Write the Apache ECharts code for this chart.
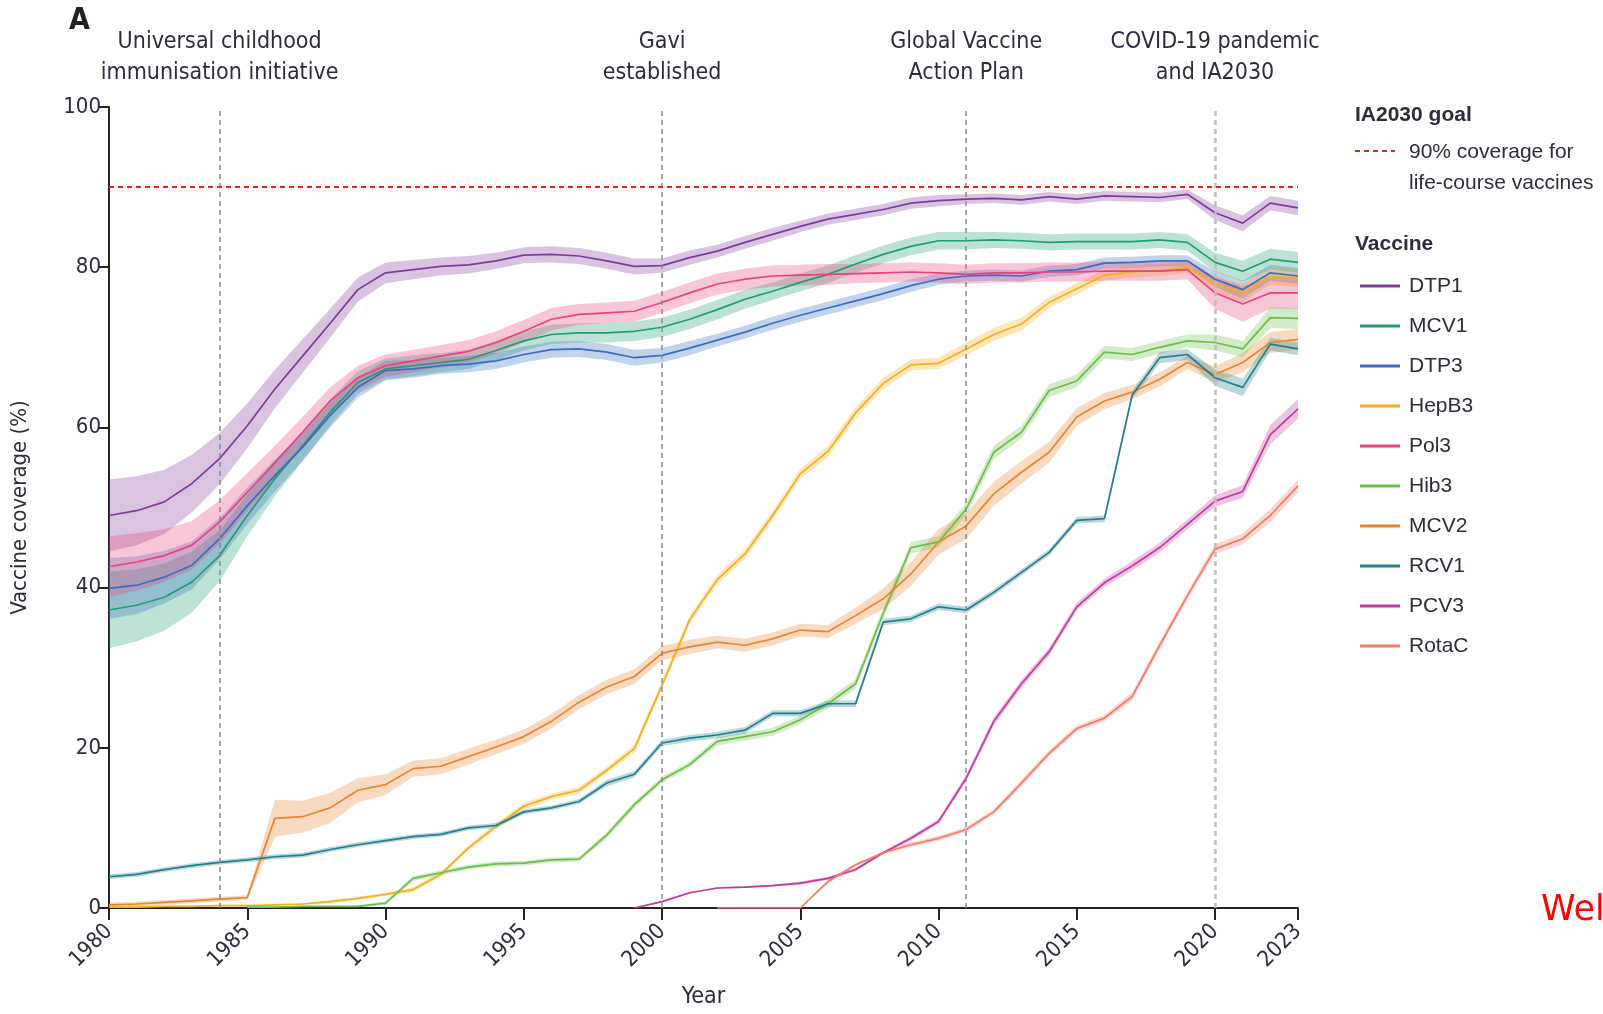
<!DOCTYPE html>
<html>
<head>
<meta charset="utf-8">
<script src="https://cdn.jsdelivr.net/npm/echarts@6/dist/echarts.min.js"></script>
<style>
  html, body { margin: 0; padding: 0; background: #fff; }
  #chart { width: 1603px; height: 1014px; }
</style>
</head>
<body>
<div id="chart"></div>
<script>
const years = ['1980','1981','1982','1983','1984','1985','1986','1987','1988','1989',
  '1990','1991','1992','1993','1994','1995','1996','1997','1998','1999',
  '2000','2001','2002','2003','2004','2005','2006','2007','2008','2009',
  '2010','2011','2012','2013','2014','2015','2016','2017','2018','2019',
  '2020','2021','2022','2023'];
const tickYears = ['1980','1985','1990','1995','2000','2005','2010','2015','2020','2023'];
const eventYears = ['1984', '2000', '2011', '2020'];
const eventLabels = [
  ['Universal childhood', 'immunisation initiative'],
  ['Gavi', 'established'],
  ['Global Vaccine', 'Action Plan'],
  ['COVID-19 pandemic', 'and IA2030']
];
const goalValue = 90;

const vaccines = ['DTP1', 'MCV1', 'DTP3', 'HepB3', 'Pol3', 'Hib3', 'MCV2', 'RCV1', 'PCV3', 'RotaC'];
const colors = ['#7d3c98', '#1f9e74', '#3d6cc0', '#f2b01e', '#e8437b', '#6cbd4a', '#e98430', '#237f8c', '#c13b9e', '#f37b6b'];

// coverage (%) per year, 1980-2023
const dtp1 = [49.0,49.6,50.7,53.0,56.1,60.2,64.8,68.9,73.0,77.2,
  79.3,79.7,80.1,80.3,80.8,81.5,81.6,81.4,80.8,80.1,
  80.2,81.2,82.0,83.1,84.1,85.1,86.0,86.6,87.2,88.0,
  88.3,88.5,88.6,88.4,88.8,88.5,88.9,88.8,88.7,89.1,
  86.8,85.5,88.0,87.4];
const mcv1 = [37.2,37.8,38.8,40.7,44.0,49.0,53.6,57.7,61.9,65.6,
  67.3,67.7,68.1,68.5,69.6,70.8,71.6,71.8,71.8,72.0,
  72.5,73.5,74.7,76.0,77.0,78.1,79.1,80.4,81.6,82.6,
  83.3,83.3,83.4,83.3,83.1,83.2,83.2,83.2,83.4,83.1,
  80.6,79.5,81.0,80.6];
const dtp3 = [39.9,40.3,41.3,42.8,46.1,50.2,54.0,57.5,61.5,65.0,
  67.1,67.3,67.7,67.9,68.3,69.1,69.7,69.8,69.4,68.7,
  69.0,69.9,70.9,71.9,73.0,74.0,74.9,75.8,76.7,77.7,
  78.5,78.9,79.0,78.9,79.5,79.7,80.5,80.6,80.8,80.8,
  78.5,77.2,79.3,78.9];
const hepb3 = [0.1,0.1,0.2,0.2,0.3,0.3,0.4,0.5,0.8,1.2,
  1.7,2.3,4.2,7.5,10.2,12.7,13.9,14.7,17.2,19.9,
  27.8,36.0,41.0,44.2,49.0,54.2,57.0,61.8,65.5,67.8,
  68.0,69.8,71.6,72.9,75.6,77.3,79.0,79.4,79.6,80.0,
  77.9,76.8,78.9,78.6];
const pol3 = [42.6,43.2,44.0,45.3,48.2,51.9,55.6,59.4,63.3,66.2,
  67.7,68.3,68.9,69.5,70.6,72.0,73.5,74.1,74.3,74.5,
  75.6,76.8,77.9,78.5,78.9,79.0,79.1,79.2,79.3,79.4,
  79.3,79.1,79.3,79.3,79.4,79.4,79.5,79.5,79.5,79.7,
  76.8,75.4,76.8,76.8];
const hib3 = [null,null,null,null,null,0.1,0.1,0.2,0.2,0.2,
  0.6,3.7,4.4,5.1,5.5,5.6,6.0,6.1,9.1,12.9,
  16.0,17.9,20.8,21.4,22.0,23.5,25.5,28.0,36.8,45.0,
  45.7,49.8,56.9,59.4,64.6,65.8,69.4,69.1,70.0,70.8,
  70.6,69.8,73.7,73.6];
const mcv2 = [0.4,0.5,0.7,0.9,1.1,1.3,11.2,11.4,12.5,14.7,
  15.4,17.4,17.7,18.9,20.1,21.4,23.3,25.7,27.6,28.9,
  31.8,32.6,33.2,32.8,33.6,34.7,34.5,36.5,38.6,41.7,
  45.7,47.7,51.7,54.4,56.9,61.3,63.3,64.4,66.0,68.1,
  66.6,68.1,70.6,71.0];
const rcv1 = [3.9,4.2,4.8,5.3,5.7,6.0,6.4,6.6,7.3,7.9,
  8.4,8.9,9.2,10.0,10.3,12.0,12.5,13.3,15.6,16.7,
  20.6,21.2,21.6,22.2,24.3,24.3,25.5,25.5,35.7,36.1,
  37.6,37.2,39.4,41.9,44.4,48.4,48.6,64.0,68.7,69.1,
  66.2,65.0,70.4,69.8];
const pcv3 = [null,null,null,null,null,null,null,null,null,null,
  null,null,null,null,null,null,null,null,null,0.0,
  0.8,1.9,2.5,2.6,2.8,3.1,3.7,4.8,6.9,8.7,
  10.8,16.2,23.3,28.0,32.0,37.6,40.6,42.7,45.0,47.9,
  50.8,52.0,59.1,62.3];
const rotac = [null,null,null,null,null,null,null,null,null,null,
  null,null,null,null,null,null,null,null,null,null,
  null,null,0.0,0.0,0.0,0.0,3.3,5.4,6.9,7.9,
  8.7,9.8,12.0,15.6,19.3,22.4,23.7,26.4,32.8,39.0,
  44.8,46.1,49.0,52.7];

// half-width of the uncertainty band (percentage points)
const ciDtp1 = [4.5,4.3,4.0,3.6,3.2,2.8,2.4,2.1,1.8,1.5,
  1.3,1.2,1.1,1.1,1.0,1.0,1.0,1.0,1.0,1.0,
  0.9,0.9,0.8,0.8,0.8,0.7,0.7,0.7,0.7,0.7,
  0.7,0.6,0.6,0.6,0.6,0.6,0.6,0.6,0.6,0.6,
  0.9,1.0,0.9,0.9];
const ciMcv1 = [4.8,4.5,4.2,3.8,3.2,2.6,2.2,1.9,1.6,1.4,
  1.3,1.3,1.2,1.2,1.2,1.2,1.2,1.2,1.2,1.2,
  1.2,1.2,1.2,1.2,1.1,1.1,1.1,1.1,1.1,1.1,
  1.1,1.1,1.0,1.0,1.0,1.0,1.0,1.0,1.0,1.0,
  1.2,1.3,1.3,1.3];
const ciDtp3 = [3.8,3.6,3.3,3.0,2.6,2.3,2.0,1.7,1.5,1.3,
  1.2,1.1,1.0,1.0,1.0,1.0,1.0,1.0,1.0,1.0,
  0.9,0.9,0.8,0.8,0.8,0.8,0.8,0.8,0.8,0.8,
  0.7,0.7,0.7,0.7,0.7,0.7,0.7,0.7,0.7,0.7,
  1.0,1.1,1.0,1.0];
const ciHepb3 = [0.1,0.1,0.1,0.1,0.1,0.1,0.1,0.1,0.2,0.2,
  0.2,0.3,0.3,0.3,0.4,0.4,0.4,0.4,0.4,0.5,
  0.5,0.5,0.6,0.6,0.6,0.6,0.7,0.7,0.7,0.7,
  0.7,0.8,0.8,0.8,0.7,0.7,0.7,0.7,0.7,0.7,
  1.0,1.1,1.1,1.1];
const ciPol3 = [3.8,3.6,3.3,3.0,2.7,2.4,2.1,1.9,1.7,1.5,
  1.4,1.4,1.4,1.4,1.4,1.4,1.4,1.3,1.3,1.3,
  1.3,1.3,1.3,1.3,1.3,1.3,1.3,1.2,1.2,1.2,
  1.2,1.2,1.2,1.2,1.2,1.2,1.2,1.2,1.2,1.2,
  2.0,2.2,2.0,2.0];
const ciHib3 = [null,null,null,null,null,0.1,0.1,0.1,0.1,0.1,
  0.2,0.3,0.3,0.3,0.3,0.3,0.3,0.3,0.4,0.4,
  0.4,0.4,0.5,0.5,0.5,0.5,0.6,0.6,0.7,0.7,
  0.7,0.8,0.8,0.8,0.8,0.8,0.8,0.8,0.8,0.8,
  1.0,1.0,1.3,1.3];
const ciMcv2 = [0.3,0.3,0.3,0.3,0.3,0.3,2.3,2.0,1.9,1.5,
  1.3,1.0,1.0,1.0,0.9,0.9,0.9,0.9,0.9,0.9,
  0.9,0.9,0.8,0.8,0.8,0.8,0.8,1.0,1.3,1.5,
  1.6,1.6,1.5,1.4,1.3,1.1,1.0,0.9,0.9,0.8,
  1.0,1.2,1.3,1.3];
const ciRcv1 = [0.3,0.3,0.3,0.3,0.3,0.3,0.3,0.3,0.3,0.3,
  0.3,0.3,0.3,0.3,0.3,0.3,0.3,0.3,0.4,0.4,
  0.4,0.4,0.4,0.4,0.4,0.4,0.4,0.4,0.4,0.4,
  0.4,0.4,0.4,0.4,0.4,0.4,0.4,0.5,0.7,0.7,
  1.0,1.1,0.8,0.8];
const ciPcv3 = [null,null,null,null,null,null,null,null,null,null,
  null,null,null,null,null,null,null,null,null,0.1,
  0.1,0.1,0.1,0.1,0.1,0.2,0.2,0.2,0.2,0.3,
  0.3,0.4,0.5,0.5,0.5,0.5,0.5,0.6,0.6,0.6,
  0.7,0.8,1.2,1.2];
const ciRotac = [null,null,null,null,null,null,null,null,null,null,
  null,null,null,null,null,null,null,null,null,null,
  null,null,0.1,0.1,0.1,0.1,0.2,0.2,0.2,0.3,
  0.3,0.3,0.3,0.4,0.4,0.4,0.4,0.5,0.5,0.5,
  0.6,0.7,0.8,0.8];

const values = [dtp1, mcv1, dtp3, hepb3, pol3, hib3, mcv2, rcv1, pcv3, rotac];
const bands = [ciDtp1, ciMcv1, ciDtp3, ciHepb3, ciPol3, ciHib3, ciMcv2, ciRcv1, ciPcv3, ciRotac];

const narrow = "'Liberation Sans Narrow', 'DejaVu Sans Condensed', sans-serif";
const regular = "'Liberation Sans', Arial, sans-serif";
const textColor = '#2d2d3a';

const chart = echarts.init(document.getElementById('chart'));

const series = [];
vaccines.forEach((name, i) => {
  const v = values[i], ci = bands[i];
  const lower = v.map((d, k) => d == null ? null : Math.max(0, +(d - ci[k]).toFixed(2)));
  const span = v.map((d, k) => d == null ? null : +(d + ci[k] - lower[k]).toFixed(2));
  series.push({
    name: name + ' lower', type: 'line', stack: 'band' + i, data: lower,
    symbol: 'none', silent: true, lineStyle: { opacity: 0 }, z: 1
  });
  series.push({
    name: name + ' band', type: 'line', stack: 'band' + i, data: span,
    symbol: 'none', silent: true, lineStyle: { opacity: 0 },
    areaStyle: { color: colors[i], opacity: 0.3 }, z: 1
  });
});
vaccines.forEach((name, i) => {
  series.push({
    name: name, type: 'line', data: values[i], symbol: 'none',
    color: colors[i], lineStyle: { width: 1.7, color: colors[i] }, z: 3
  });
});

// event markers and IA2030 goal line
series[series.length - vaccines.length].markLine = {
  silent: true, symbol: 'none', label: { show: false },
  data: eventYears.map(y => ({
    xAxis: y,
    lineStyle: { color: y === '2020' ? '#bdbdbd' : '#8a8a8a', type: [5, 4], width: y === '2020' ? 2.5 : 1.5 }
  })).concat([{
    yAxis: goalValue,
    lineStyle: { color: '#e8231f', type: [5, 4], width: 2 }
  }])
};

const showTick = (i, v) => tickYears.indexOf(v) >= 0;

chart.setOption({
  animation: false,
  backgroundColor: '#fff',
  grid: { left: 109, right: 305, top: 107, bottom: 104 },
  legend: {
    data: vaccines,
    orient: 'vertical',
    left: 1355,
    top: 270,
    itemWidth: 40,
    itemHeight: 3,
    itemGap: 18,
    icon: 'rect',
    selectedMode: false,
    textStyle: { fontSize: 21, lineHeight: 22, fontFamily: regular, color: textColor, padding: [0, 0, 0, 4] }
  },
  xAxis: {
    type: 'category',
    data: years,
    boundaryGap: false,
    name: 'Year',
    nameLocation: 'middle',
    nameGap: 78,
    nameTextStyle: { fontSize: 23, fontFamily: narrow, color: textColor },
    axisLine: { lineStyle: { color: '#222', width: 2 } },
    axisTick: { interval: showTick, length: 12, lineStyle: { color: '#222', width: 2 } },
    axisLabel: { interval: showTick, rotate: 45, margin: 20, fontSize: 22, fontFamily: narrow, color: textColor },
    splitLine: { show: false }
  },
  yAxis: {
    type: 'value',
    min: 0,
    max: 100,
    interval: 20,
    name: 'Vaccine coverage (%)',
    nameLocation: 'middle',
    nameGap: 78,
    nameTextStyle: { fontSize: 22, fontFamily: narrow, color: textColor },
    axisLine: { show: true, lineStyle: { color: '#222', width: 2 } },
    axisTick: { show: true, length: 10, lineStyle: { color: '#222', width: 2 } },
    axisLabel: { margin: 8, fontSize: 22, fontFamily: narrow, color: textColor },
    splitLine: { show: false }
  },
  series: series
});

const graphics = [
  { type: 'text', left: 69, top: 6, style: { text: 'A', fontSize: 30, fontWeight: 'bold', fontFamily: narrow, fill: '#222' } },
  { type: 'text', left: 1355, top: 105, style: { text: 'IA2030 goal', fontSize: 21, fontWeight: 'bold', fontFamily: regular, fill: textColor } },
  { type: 'line', shape: { x1: 1355, y1: 151, x2: 1395, y2: 151 }, style: { stroke: '#e8231f', lineWidth: 2, lineDash: [5, 4] } },
  { type: 'text', left: 1409, top: 137, style: { text: '90% coverage for\nlife-course vaccines', fontSize: 21, lineHeight: 31, fontFamily: regular, fill: textColor } },
  { type: 'text', left: 1355, top: 234, style: { text: 'Vaccine', fontSize: 21, fontWeight: 'bold', fontFamily: regular, fill: textColor } },
  { type: 'text', left: 1541, top: 893, style: { text: 'Wel', fontSize: 35, fontFamily: "'DejaVu Sans', sans-serif", fill: '#ff0000' } }
];
eventYears.forEach((y, i) => {
  const x = chart.convertToPixel({ xAxisIndex: 0 }, y);
  graphics.push({
    type: 'text', x: x, y: 58,
    style: { text: eventLabels[i].join('\n'), fontSize: 23, lineHeight: 31, fontFamily: narrow, fill: textColor, align: 'center', verticalAlign: 'middle' }
  });
});
chart.setOption({ graphic: graphics });
</script>
</body>
</html>
